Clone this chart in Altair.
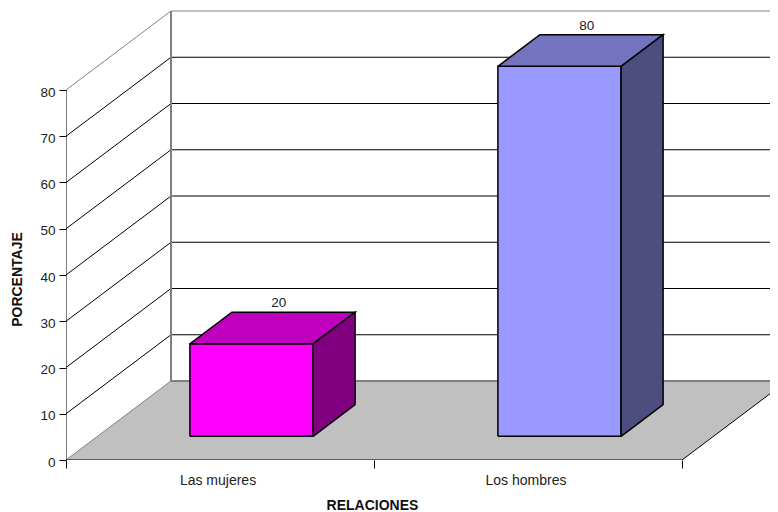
import altair as alt
import pandas as pd

categories = ["Las mujeres", "Los hombres"]
values = [20, 80]
front_colors = ["#FF00FF", "#9999FF"]
top_colors = ["#BF00BF", "#7373BF"]
side_colors = ["#800080", "#4D4D80"]
grid_values = [10, 20, 30, 40, 50, 60, 70]
tick_values = [0, 10, 20, 30, 40, 50, 60, 70, 80]

PX_CAT, PX_VAL = 308.0, 4.625
PLOT_W, PLOT_H = 704, 452
DX, DY = 105 / PX_CAT, 79 / PX_VAL
XMAX, YMAX = PLOT_W / PX_CAT, PLOT_H / PX_VAL


def P(u, v, d):
    """oblique projection of category position u, value v, depth d"""
    return u + d * DX, v + d * DY


def poly(name, color, pts):
    rows = []
    for i, (u, v, d) in enumerate(pts + [pts[0]]):
        x, y = P(u, v, d)
        rows.append(dict(id=name, fill=color, i=i, x=x, y=y))
    return rows


rows = []
for k, val in enumerate(values):
    u0, u1, d0, d1 = k + 0.3, k + 0.7, 0.3, 0.7
    rows += poly(f"f{k}", front_colors[k], [(u0, 0, d0), (u1, 0, d0), (u1, val, d0), (u0, val, d0)])
    rows += poly(f"t{k}", top_colors[k], [(u0, val, d0), (u1, val, d0), (u1, val, d1), (u0, val, d1)])
    rows += poly(f"s{k}", side_colors[k], [(u1, 0, d0), (u1, 0, d1), (u1, val, d1), (u1, val, d0)])
bars = pd.DataFrame(rows)

floor = pd.DataFrame(poly("floor", "#C0C0C0", [(0, 0, 0), (2, 0, 0), (2, 0, 1), (0, 0, 1)]))


def segs(name, pts):
    return [dict(id=name, i=i, x=P(*p)[0], y=P(*p)[1]) for i, p in enumerate(pts)]


wall_rows = []
for v in grid_values:
    wall_rows += segs(f"g{v}", [(0, v, 0), (0, v, 1), (2, v, 1)])
walls = pd.DataFrame(wall_rows)

grey_thin = pd.DataFrame(
    segs("top", [(0, 80, 0), (0, 80, 1), (2, 80, 1)]) + segs("left", [(0, 0, 0), (0, 0, 1)])
)
grey_thick = pd.DataFrame(
    segs("v", [(0, 0, 1), (0, 80, 1)]) + segs("b", [(0, 0, 1), (2, 0, 1)])
)
black_edge = pd.DataFrame(
    segs("front", [(0, 0, 0), (2, 0, 0), (2, 0, 1)]) + segs("axis", [(0, 0, 0), (0, 80, 0)])
)

xs = alt.Scale(domain=[0, XMAX], nice=False, zero=False)
ys = alt.Scale(domain=[0, YMAX], nice=False, zero=False)
FONT = "Liberation Sans"


def lines(df, **kw):
    return (
        alt.Chart(df)
        .mark_line(clip=True, **kw)
        .encode(
            x=alt.X("x:Q", scale=xs, axis=None),
            y=alt.Y("y:Q", scale=ys, axis=None),
            detail="id:N",
            order="i:Q",
        )
    )


axes = (
    alt.Chart(pd.DataFrame({"x": [0.0], "y": [0.0]}))
    .mark_point(opacity=0)
    .encode(
        x=alt.X(
            "x:Q", scale=xs,
            axis=alt.Axis(
                values=[0, 1, 2], labels=False, domain=False, grid=False, tickSize=8,
                tickColor="black", title="RELACIONES", titleFont=FONT, titleFontSize=14,
                titleFontWeight="bold", titleColor="#111", titleX=306, titleY=45,
                titleBaseline="middle", titleAnchor="middle",
            ),
        ),
        y=alt.Y(
            "y:Q", scale=ys,
            axis=alt.Axis(
                values=tick_values, domain=False, grid=False, tickSize=7, tickColor="black",
                labelFont=FONT, labelFontSize=13.5, labelColor="#222", labelPadding=4, labelOffset=2,
                title="PORCENTAJE", titleFont=FONT, titleFontSize=14, titleFontWeight="bold",
                titleColor="#111", titleX=-49, titleY=271, titleAngle=270, titleAlign="center",
                titleBaseline="middle",
            ),
        ),
    )
)

floor_layer = (
    alt.Chart(floor)
    .mark_line(clip=True, fill="#C0C0C0", strokeWidth=0, stroke="#C0C0C0")
    .encode(x=alt.X("x:Q", scale=xs, axis=None), y=alt.Y("y:Q", scale=ys, axis=None), order="i:Q")
)

bars_layer = (
    alt.Chart(bars)
    .mark_line(stroke="black", strokeWidth=1.5, strokeJoin="miter")
    .encode(
        x=alt.X("x:Q", scale=xs, axis=None),
        y=alt.Y("y:Q", scale=ys, axis=None),
        detail="id:N",
        fill=alt.Fill("fill:N", scale=None),
        order="i:Q",
    )
)

label_df = pd.DataFrame(
    {
        "cat": categories,
        "v": values,
        "xc": [i + 0.5 for i in range(len(values))],
        "x": [P(i + 0.5, 0, 0.56)[0] for i in range(len(values))],
        "y": [P(0, v, 0.7)[1] for v in values],
        "y0": [0.0] * len(values),
    }
)
value_labels = (
    alt.Chart(label_df)
    .mark_text(font=FONT, fontSize=13.5, color="#222", baseline="bottom", dy=-2)
    .encode(x=alt.X("x:Q", scale=xs, axis=None), y=alt.Y("y:Q", scale=ys, axis=None), text="v:Q")
)
cat_labels = (
    alt.Chart(label_df)
    .mark_text(font=FONT, fontSize=14, color="#222", baseline="middle", dy=21, dx=-2)
    .encode(x=alt.X("xc:Q", scale=xs, axis=None), y=alt.Y("y0:Q", scale=ys, axis=None), text="cat:N")
)

chart = (
    alt.layer(
        axes,
        floor_layer,
        lines(walls, stroke="black", strokeWidth=1),
        lines(grey_thin, stroke="#808080", strokeWidth=1),
        lines(grey_thick, stroke="#808080", strokeWidth=2),
        lines(black_edge, stroke="black", strokeWidth=1),
        bars_layer,
        value_labels,
        cat_labels,
    )
    .resolve_axis(x="independent", y="independent")
    .properties(
        width=PLOT_W,
        height=PLOT_H,
        padding={"left": 58, "top": 0, "right": 0, "bottom": 52},
        autosize=alt.AutoSizeParams(type="none"),
    )
    .configure_view(stroke=None)
)

chart.save("out.html", embed_options={"renderer": "svg", "actions": False})
